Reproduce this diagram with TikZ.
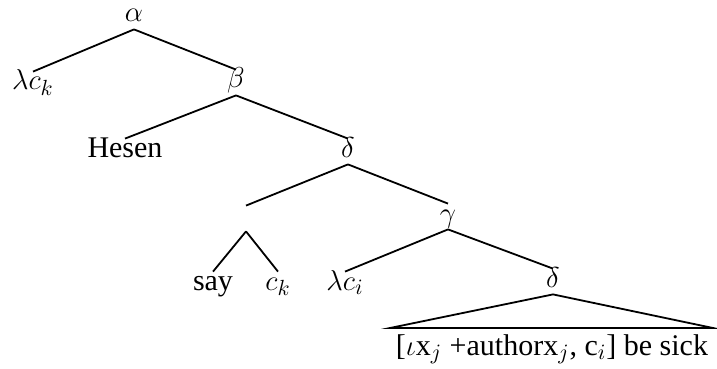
\documentclass[tikz,border=0pt]{standalone}
\usepackage{fontspec}
\setmainfont{Liberation Serif}
\begin{document}
\begin{tikzpicture}[x=0.5pt,y=-0.5pt,
  lbl/.style={anchor=base, inner xsep=1pt, inner ysep=1pt,
    text height=0.8em, text depth=0.25em,
    font=\fontsize{15}{18}\selectfont},
  branch/.style={line width=0.9pt}]
\useasboundingbox (0,0) rectangle (717,369);

% labels of the tree
\node[lbl] (a)     at (134,22)  {$\alpha$};
\node[lbl] (lck)   at (33,90)   {$\lambda c_k$};
\node[lbl] (b)     at (236,88)  {$\beta$};
\node[lbl] (hesen) at (125,157) {Hesen};
\node[lbl] (d1)    at (348,157) {$\delta$};
\node[lbl] (e)     at (246,224) {};
\node[lbl] (g)     at (448,222) {$\gamma$};
\node[lbl] (say)   at (213,290) {say};
\node[lbl] (ck)    at (278,290) {$c_k$};
\node[lbl] (lci)   at (345,290) {$\lambda c_i$};
\node[lbl] (d2)    at (553,287) {$\delta$};
\coordinate (tl) at (390,328);
\coordinate (tr) at (713,328);
\node[lbl] (s)     at (552,355) {[$\iota$x$_j$ +authorx$_j$, c$_i$] be sick};

% branches
\draw[branch] (a.south) -- (lck.north);
\draw[branch] (a.south) -- (b.north);
\draw[branch] (b.south) -- (hesen.north);
\draw[branch] (b.south) -- (d1.north);
\draw[branch] (d1.south) -- (e.north);
\draw[branch] (d1.south) -- (g.north);
\draw[branch] (e.south) -- (say.north);
\draw[branch] (e.south) -- (ck.north);
\draw[branch] (g.south) -- (lci.north);
\draw[branch] (g.south) -- (d2.north);
% roof over the unanalysed constituent
\draw[branch] (d2.south) -- (tl) -- (tr) -- cycle;
\end{tikzpicture}
\end{document}
